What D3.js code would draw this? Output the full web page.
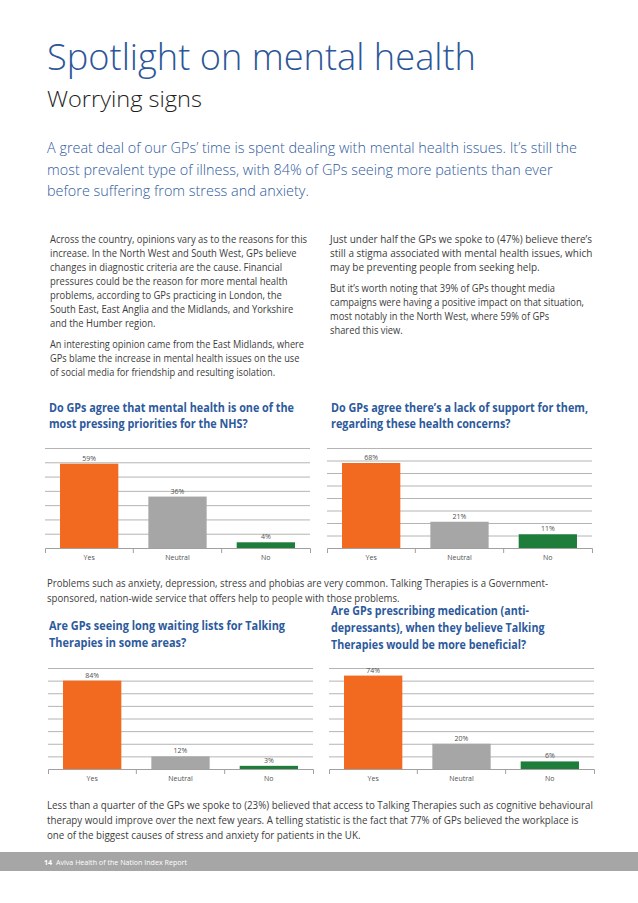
<!DOCTYPE html>
<html>
<head>
<meta charset="utf-8">
<script src="https://cdn.jsdelivr.net/npm/d3@7"></script>
<style>
  body { margin: 0; background: #fff; }
  text { font-family: "Open Sans", "DejaVu Sans", sans-serif; }
</style>
</head>
<body>
<div id="page"></div>
<script>
// chart data
var categories = ["Yes", "Neutral", "No"];
var priorityValues = [59, 36, 4];
var supportValues = [68, 21, 11];
var waitingValues = [84, 12, 3];
var medicationValues = [74, 20, 6];
var barColors = ["#f26a1f", "#a6a6a6", "#1f7d3b"];

// page text
var titleText = "Spotlight on mental health";
var subTitleText = "Worrying signs";
var introLines = [
  "A great deal of our GPs\u2019 time is spent dealing with mental health issues. It\u2019s still the",
  "most prevalent type of illness, with 84% of GPs seeing more patients than ever",
  "before suffering from stress and anxiety."
];
var leftLines1 = [
  "Across the country, opinions vary as to the reasons for this",
  "increase. In the North West and South West, GPs believe",
  "changes in diagnostic criteria are the cause. Financial",
  "pressures could be the reason for more mental health",
  "problems, according to GPs practicing in London, the",
  "South East, East Anglia and the Midlands, and Yorkshire",
  "and the Humber region."
];
var leftLines2 = [
  "An interesting opinion came from the East Midlands, where",
  "GPs blame the increase in mental health issues on the use",
  "of social media for friendship and resulting isolation."
];
var rightLines1 = [
  "Just under half the GPs we spoke to (47%) believe there\u2019s",
  "still a stigma associated with mental health issues, which",
  "may be preventing people from seeking help."
];
var rightLines2 = [
  "But it\u2019s worth noting that 39% of GPs thought media",
  "campaigns were having a positive impact on that situation,",
  "most notably in the North West, where 59% of GPs",
  "shared this view."
];
var chartTitle1 = ["Do GPs agree that mental health is one of the", "most pressing priorities for the NHS?"];
var chartTitle2 = ["Do GPs agree there\u2019s a lack of support for them,", "regarding these health concerns?"];
var midLines = [
  "Problems such as anxiety, depression, stress and phobias are very common. Talking Therapies is a Government-",
  "sponsored, nation-wide service that offers help to people with those problems."
];
var chartTitle3 = ["Are GPs seeing long waiting lists for Talking", "Therapies in some areas?"];
var chartTitle4 = ["Are GPs prescribing medication (anti-", "depressants), when they believe Talking", "Therapies would be more beneficial?"];
var bottomLines = [
  "Less than a quarter of the GPs we spoke to (23%) believed that access to Talking Therapies such as cognitive behavioural",
  "therapy would improve over the next few years. A telling statistic is the fact that 77% of GPs believed the workplace is",
  "one of the biggest causes of stress and anxiety for patients in the UK."
];
var footerNumber = "14";
var footerText = "Aviva Health of the Nation Index Report";

var width = 638, height = 903;

var svg = d3.select("#page")
  .append("svg")
  .attr("width", width)
  .attr("height", height);

// draws lines of text, squeezed so the first line has the measured width
function textBlock(lines, x, y, lineH, style, firstWidth) {
  var g = svg.append("g");
  var texts = g.selectAll("text")
    .data(lines)
    .enter().append("text")
    .attr("x", x)
    .attr("y", function(d, i) { return y + i * lineH; })
    .attr("font-size", style.size)
    .attr("font-weight", style.weight || 400)
    .attr("fill", style.color)
    .text(function(d) { return d; });
  var k = firstWidth / texts.node().getComputedTextLength();
  texts.each(function() {
    var w = this.getComputedTextLength();
    d3.select(this)
      .attr("textLength", w * k)
      .attr("lengthAdjust", "spacingAndGlyphs");
  });
  return g;
}

var bodyStyle = {size: 10, color: "#3c3c3c"};
var chartTitleStyle = {size: 11.5, weight: 700, color: "#2d5a9c"};

textBlock([titleText], 47, 70, 0, {size: 37, weight: 300, color: "#2c5698"}, 429);
textBlock([subTitleText], 47, 107, 0, {size: 22, weight: 300, color: "#1e1e1e"}, 155);
textBlock(introLines, 47, 153, 21.5, {size: 14, weight: 300, color: "#2f5a9e"}, 530);

textBlock(leftLines1, 50, 243, 14, bodyStyle, 257);
textBlock(leftLines2, 50, 348, 14, bodyStyle, 254);
textBlock(rightLines1, 330, 243, 14, bodyStyle, 262);
textBlock(rightLines2, 330, 292, 14, bodyStyle, 225);

textBlock(chartTitle1, 49, 412, 16, chartTitleStyle, 245);
textBlock(chartTitle2, 331, 412, 16, chartTitleStyle, 257);

textBlock(midLines, 47, 587, 14.5, bodyStyle, 501);

textBlock(chartTitle3, 49, 630, 17, chartTitleStyle, 236);
textBlock(chartTitle4, 331, 615, 17, chartTitleStyle, 198);

textBlock(bottomLines, 47, 809, 15, bodyStyle, 546);

// bar chart with gridlines and category axis
function barChart(values, box) {
  var x = d3.scaleBand()
    .domain(categories)
    .range([box.x0, box.x1])
    .paddingInner(0.34)
    .paddingOuter(0.17);

  var y = d3.scaleLinear()
    .domain([0, box.max])
    .range([box.y1, box.y0]);

  var g = svg.append("g").attr("class", "chart");

  var grid = g.append("g")
    .attr("transform", "translate(" + box.x0 + ",0)")
    .call(d3.axisLeft(y)
      .tickValues(d3.range(box.step, box.max + box.step / 2, box.step))
      .tickSize(-(box.x1 - box.x0))
      .tickFormat(""));
  grid.select(".domain").remove();
  grid.selectAll("line").attr("stroke", "#b4b4b4");

  g.selectAll("rect")
    .data(values)
    .enter().append("rect")
    .attr("x", function(d, i) { return x(categories[i]); })
    .attr("y", function(d) { return y(d); })
    .attr("width", x.bandwidth())
    .attr("height", function(d) { return y(0) - y(d); })
    .attr("fill", function(d, i) { return barColors[i]; });

  g.selectAll(".value")
    .data(values)
    .enter().append("text")
    .attr("class", "value")
    .attr("x", function(d, i) { return x(categories[i]) + x.bandwidth() / 2; })
    .attr("y", function(d) { return y(d) - 3; })
    .attr("text-anchor", "middle")
    .attr("font-size", 7)
    .attr("fill", "#505050")
    .text(function(d) { return d + "%"; });

  var axis = g.append("g")
    .attr("transform", "translate(0," + box.y1 + ")")
    .call(d3.axisBottom(x).tickSizeInner(0).tickSizeOuter(5).tickPadding(7));
  axis.select(".domain").attr("stroke", "#a0a0a0");
  axis.selectAll("text")
    .attr("font-size", 7)
    .attr("fill", "#505050")
    .style("font-family", "'Open Sans', sans-serif");

  // tick marks between categories
  g.selectAll(".sep")
    .data(categories.slice(1))
    .enter().append("line")
    .attr("class", "sep")
    .attr("x1", function(d) { return x(d) - x.step() * x.paddingInner() / 2; })
    .attr("x2", function(d) { return x(d) - x.step() * x.paddingInner() / 2; })
    .attr("y1", box.y1)
    .attr("y2", box.y1 + 5)
    .attr("stroke", "#a0a0a0");
}

barChart(priorityValues, {x0: 45, x1: 310, y0: 448, y1: 548, max: 70, step: 10});
barChart(supportValues, {x0: 327, x1: 592, y0: 448, y1: 548, max: 80, step: 10});
barChart(waitingValues, {x0: 48, x1: 313, y0: 668, y1: 769, max: 96, step: 12});
barChart(medicationValues, {x0: 329, x1: 594, y0: 668, y1: 769, max: 80, step: 10});

// footer band
svg.append("rect")
  .attr("x", 0)
  .attr("y", 852)
  .attr("width", width)
  .attr("height", 19)
  .attr("fill", "#a6a6a6");

var foot = svg.append("text")
  .attr("x", 44)
  .attr("y", 865)
  .attr("font-size", 7.5)
  .attr("fill", "#fff");
foot.append("tspan").attr("font-weight", 700).text(footerNumber);
foot.append("tspan").attr("dx", 4).text(footerText);
foot.attr("textLength", 143).attr("lengthAdjust", "spacingAndGlyphs");
</script>
</body>
</html>
